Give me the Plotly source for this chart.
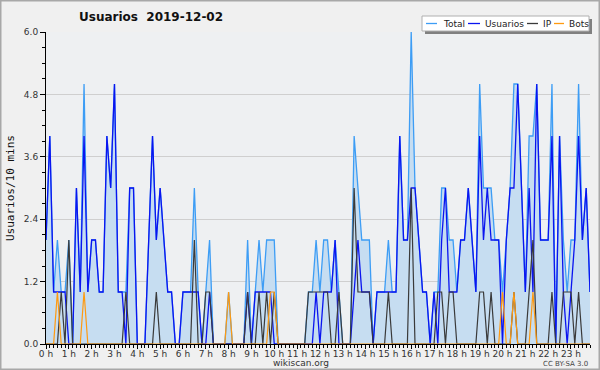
import plotly.graph_objects as go

# ---- data (values per 10-minute slot, 144 slots) ----
total = [2, 4, 1, 2, 1, 1, 2, 0, 3, 1,
         5, 1, 2, 2, 1, 1, 4, 3, 5, 1,
         1, 1, 3, 3, 0, 0, 0, 2, 4, 2,
         3, 2, 1, 1, 0, 0, 1, 1, 1, 3,
         1, 0, 1, 2, 0, 0, 0, 0, 1, 0,
         0, 0, 0, 2, 0, 1, 2, 1, 2, 2,
         2, 0, 0, 0, 0, 0, 0, 0, 0, 1,
         1, 2, 1, 2, 2, 1, 2, 1, 0, 0,
         0, 4, 3, 2, 2, 2, 0, 1, 1, 1,
         2, 1, 1, 4, 2, 2, 6, 3, 2, 1,
         1, 0, 1, 1, 3, 3, 2, 2, 1, 2,
         2, 3, 2, 1, 5, 3, 3, 3, 2, 2,
         1, 2, 3, 5, 5, 3, 1, 4, 4, 5,
         2, 2, 2, 5, 0, 4, 2, 1, 2, 2,
         5, 2, 3, 1]

usuarios = [2, 4, 1, 1, 1, 1, 0, 0, 3, 1,
            4, 1, 2, 2, 1, 1, 4, 3, 5, 1,
            1, 0, 3, 3, 0, 0, 0, 2, 4, 2,
            3, 2, 1, 1, 0, 0, 1, 1, 1, 1,
            1, 0, 0, 1, 0, 0, 0, 0, 0, 0,
            0, 0, 0, 1, 0, 1, 1, 1, 1, 1,
            0, 0, 0, 0, 0, 0, 0, 0, 0, 0,
            0, 1, 0, 1, 1, 1, 2, 0, 0, 0,
            0, 1, 2, 1, 1, 1, 0, 1, 1, 1,
            1, 1, 1, 4, 2, 2, 3, 3, 2, 1,
            1, 0, 1, 0, 2, 3, 1, 1, 1, 2,
            2, 3, 2, 1, 4, 2, 3, 2, 2, 2,
            0, 2, 3, 3, 5, 3, 1, 3, 1, 5,
            2, 2, 2, 4, 0, 4, 1, 0, 1, 2,
            4, 2, 3, 1]

ip = [0, 0, 0, 0, 1, 0, 2, 0, 0, 0,
      0, 0, 0, 0, 0, 0, 0, 0, 0, 0,
      0, 1, 0, 0, 0, 0, 0, 0, 0, 1,
      0, 0, 0, 0, 0, 0, 0, 0, 0, 2,
      0, 0, 1, 1, 0, 0, 0, 0, 0, 0,
      0, 0, 0, 1, 0, 0, 1, 0, 1, 0,
      1, 0, 0, 0, 0, 0, 0, 0, 0, 1,
      1, 1, 1, 1, 1, 0, 0, 1, 0, 0,
      0, 3, 1, 1, 1, 1, 0, 0, 0, 0,
      1, 0, 0, 0, 0, 0, 3, 0, 0, 0,
      0, 0, 0, 1, 1, 0, 1, 1, 0, 0,
      0, 0, 0, 0, 1, 1, 0, 1, 0, 0,
      0, 0, 0, 1, 0, 0, 0, 1, 2, 0,
      0, 0, 0, 1, 0, 0, 1, 1, 1, 0,
      1, 0, 0, 0]

bots = [0, 0, 0, 1, 0, 0, 0, 0, 0, 0,
        1, 0, 0, 0, 0, 0, 0, 0, 0, 0,
        0, 0, 0, 0, 0, 0, 0, 0, 0, 0,
        0, 0, 0, 0, 0, 0, 0, 0, 0, 0,
        0, 0, 0, 0, 0, 0, 0, 0, 1, 0,
        0, 0, 0, 0, 0, 0, 0, 0, 0, 1,
        1, 0, 0, 0, 0, 0, 0, 0, 0, 0,
        0, 0, 0, 0, 0, 0, 0, 0, 0, 0,
        0, 0, 0, 0, 0, 0, 0, 0, 0, 0,
        0, 0, 0, 0, 0, 0, 0, 0, 0, 0,
        0, 0, 0, 0, 0, 0, 0, 0, 0, 0,
        0, 0, 0, 0, 0, 0, 0, 0, 0, 0,
        1, 0, 0, 1, 0, 0, 0, 0, 1, 0,
        0, 0, 0, 0, 0, 0, 0, 0, 0, 0,
        0, 0, 0, 0]

hour_labels = ["0 h", "1 h", "2 h", "3 h", "4 h", "5 h", "6 h", "7 h",
               "8 h", "9 h", "10 h", "11 h", "12 h", "13 h", "14 h", "15 h",
               "16 h", "17 h", "18 h", "19 h", "20 h", "21 h", "22 h", "23 h"]
slots_per_hour = 6
y_ticks = [0.0, 1.2, 2.4, 3.6, 4.8, 6.0]

series_names = ["Total", "Usuarios", "IP", "Bots"]
series_colors = ["#3d9df5", "#0a14f0", "#3a3a3a", "#ff9a10"]

# ---- layout geometry (pixels) ----
W, H = 600, 370
L, R, T, B = 46, 10, 32, 26
PW, PH = W - L - R, H - T - B


def px(x):
    return (x - L) / PW


def py(y):
    return (H - B - y) / PH


slots = list(range(len(total)))

fig = go.Figure()
fig.add_trace(go.Scatter(x=slots, y=total, mode="lines", name="Total",
                         line=dict(color=series_colors[0], width=1.3),
                         fill="tozeroy", fillcolor="#c6ddf1"))
fig.add_trace(go.Scatter(x=slots, y=usuarios, mode="lines", name="Usuarios",
                         line=dict(color=series_colors[1], width=1.3)))
fig.add_trace(go.Scatter(x=slots, y=ip, mode="lines", name="IP",
                         line=dict(color=series_colors[2], width=1.2)))
fig.add_trace(go.Scatter(x=slots, y=bots, mode="lines", name="Bots",
                         line=dict(color=series_colors[3], width=1.2)))

fig.update_layout(
    width=W, height=H, margin=dict(l=L, r=R, t=T, b=B),
    paper_bgcolor="#f0f0f0", plot_bgcolor="#eef0f2",
    showlegend=False,
    font=dict(family="DejaVu Sans", size=10, color="#333333"),
)

fig.update_xaxes(
    range=[0, len(total) - 1],
    tickvals=[h * slots_per_hour for h in range(len(hour_labels))],
    ticktext=hour_labels, tickangle=0,
    ticks="outside", ticklen=4, tickcolor="#000", tickwidth=1,
    ticklabelstandoff=-3,
    minor=dict(dtick=1, ticks="outside", ticklen=3, tickcolor="#000", showgrid=False),
    showline=True, linecolor="#000", linewidth=1,
    showgrid=False, zeroline=False,
    tickfont=dict(size=9, color="#333"),
)
fig.update_yaxes(
    range=[0, 6], tickvals=y_ticks, tickformat=".1f",
    ticks="outside", ticklen=5, tickcolor="#000",
    minor=dict(dtick=0.3, ticks="outside", ticklen=3, tickcolor="#000", showgrid=False),
    showline=True, linecolor="#000", linewidth=1,
    showgrid=True, gridcolor="#cfcfcf", gridwidth=1, zeroline=False,
    tickfont=dict(size=9, color="#333"),
)

shapes = []
# outer border
shapes.append(dict(type="rect", xref="paper", yref="paper",
                   x0=px(0.75), x1=px(W - 0.75), y0=py(H - 0.75), y1=py(0.75),
                   line=dict(color="#a8a8a8", width=1.5), fillcolor="rgba(0,0,0,0)", layer="above"))
# legend box with shadow
lx0, lx1, ly0, ly1 = 422, 589, 16, 31
shapes.append(dict(type="rect", xref="paper", yref="paper",
                   x0=px(lx0 + 3), x1=px(lx1 + 3), y0=py(ly1 + 3), y1=py(ly0 + 3),
                   line=dict(width=0), fillcolor="#808080", layer="above"))
shapes.append(dict(type="rect", xref="paper", yref="paper",
                   x0=px(lx0), x1=px(lx1), y0=py(ly1), y1=py(ly0),
                   line=dict(color="#b0b0b0", width=1), fillcolor="#ffffff", layer="above"))
annotations = []
leg_lines = [(426, 437), (468, 480), (527, 538), (554, 564)]
leg_text_x = [441, 483, 541, 567]
ly = (ly0 + ly1) / 2
for (a, b), tx, name, col in zip(leg_lines, leg_text_x, series_names, series_colors):
    shapes.append(dict(type="line", xref="paper", yref="paper",
                       x0=px(a), x1=px(b), y0=py(ly), y1=py(ly),
                       line=dict(color=col, width=1.3), layer="above"))
    annotations.append(dict(text=name, xref="paper", yref="paper", x=px(tx), y=py(ly),
                            xanchor="left", yanchor="middle", showarrow=False,
                            font=dict(size=9, color="#222")))

annotations.append(dict(text="<b>Usuarios  2019-12-02</b>", xref="paper", yref="paper",
                        x=px(77), y=py(17), xanchor="left", yanchor="middle", showarrow=False,
                        font=dict(size=12, color="#111")))
annotations.append(dict(text="Usuarios/10 mins", xref="paper", yref="paper",
                        x=px(10), y=py(188), xanchor="center", yanchor="middle", showarrow=False,
                        textangle=-90, font=dict(family="DejaVu Sans Mono", size=11, color="#111")))
annotations.append(dict(text="wikiscan.org", xref="paper", yref="paper",
                        x=px(301), y=py(362.5), xanchor="center", yanchor="middle", showarrow=False,
                        font=dict(size=9, color="#333")))
annotations.append(dict(text="CC BY-SA 3.0", xref="paper", yref="paper",
                        x=px(590), y=py(363.5), xanchor="right", yanchor="middle", showarrow=False,
                        font=dict(size=7, color="#444")))

fig.update_layout(shapes=shapes, annotations=annotations)
fig.write_html("out.html", post_script="document.body.style.margin='0';",
               config={"displayModeBar": False})
